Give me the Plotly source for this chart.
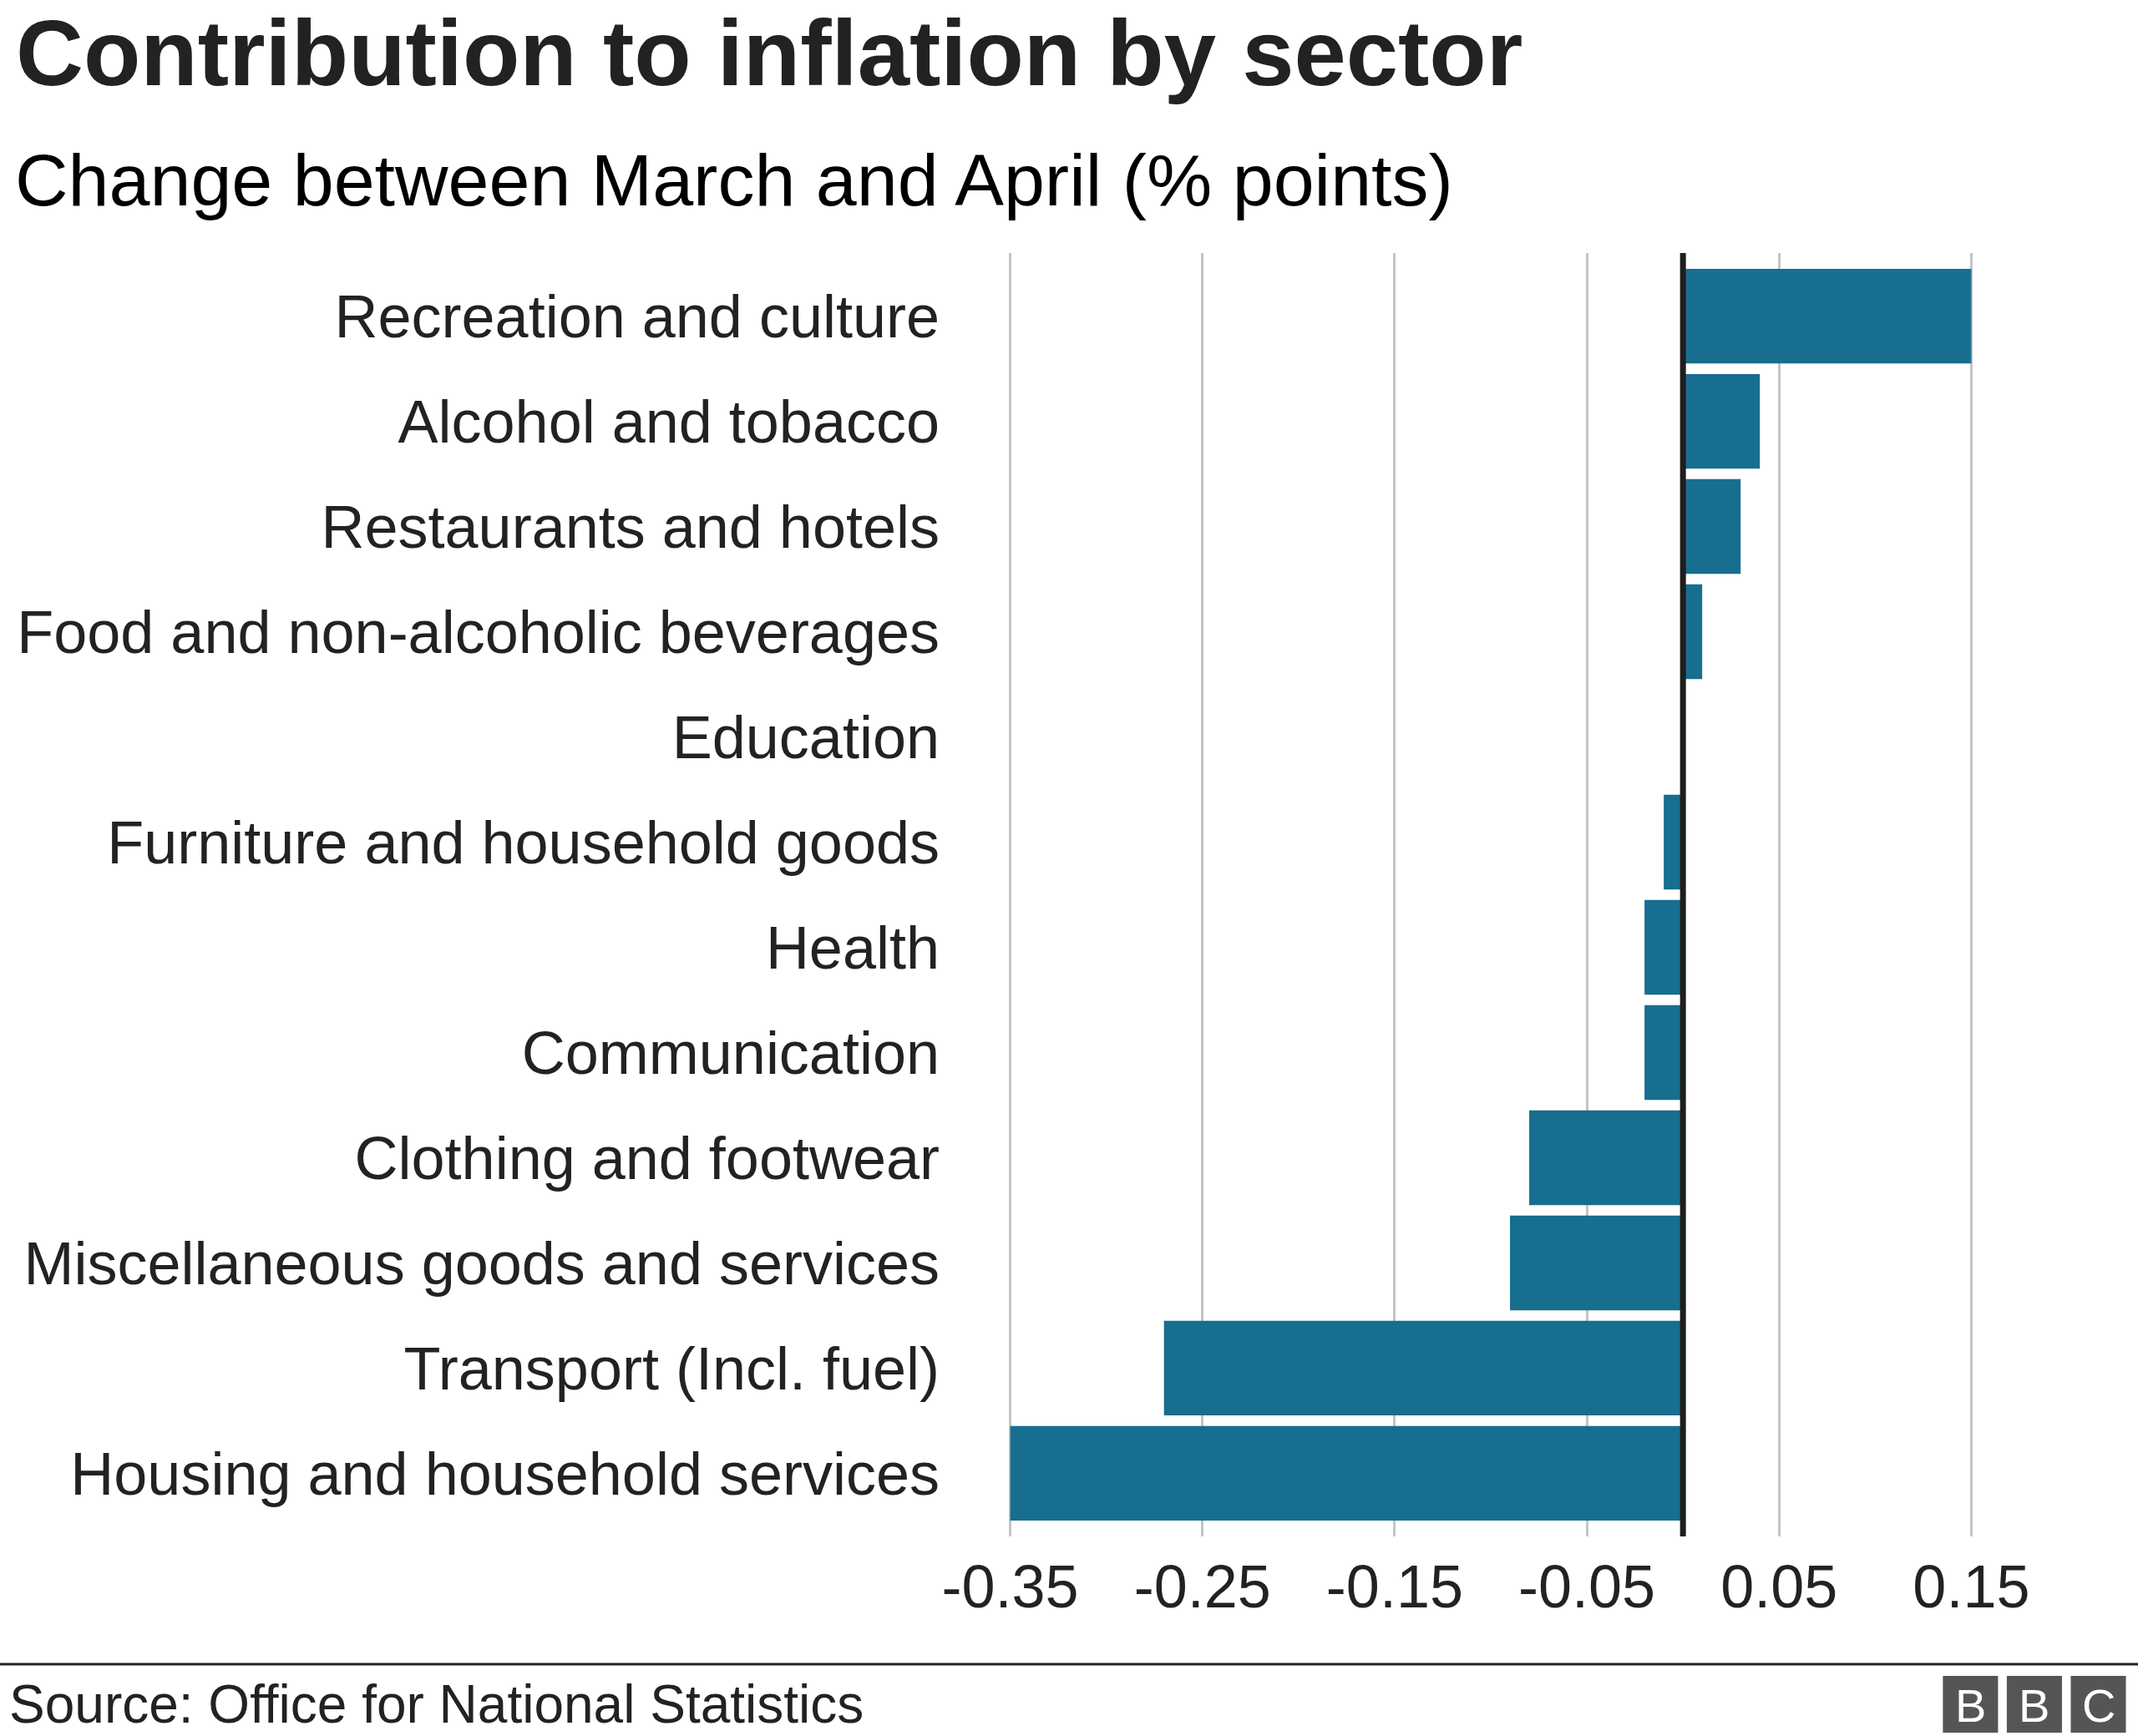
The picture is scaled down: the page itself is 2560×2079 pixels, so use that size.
import plotly.graph_objects as go

categories = [
    "Recreation and culture",
    "Alcohol and tobacco",
    "Restaurants and hotels",
    "Food and non-alcoholic beverages",
    "Education",
    "Furniture and household goods",
    "Health",
    "Communication",
    "Clothing and footwear",
    "Miscellaneous goods and services",
    "Transport (Incl. fuel)",
    "Housing and household services",
]
values = [0.15, 0.04, 0.03, 0.01, 0.0, -0.01, -0.02, -0.02, -0.08, -0.09, -0.27, -0.35]
tick_values = [-0.35, -0.25, -0.15, -0.05, 0.05, 0.15]
tick_labels = ["-0.35", "-0.25", "-0.15", "-0.05", "0.05", "0.15"]

W, H = 2560, 2079
X_MIN, X_MAX = -0.352, 0.152
SCALE = 2300.0  # pixels per unit
ZERO_PX = 2015.0
L = ZERO_PX + X_MIN * SCALE
R = ZERO_PX + X_MAX * SCALE
T, B = 303, 1840
FONT = "Liberation Sans, Arial, Helvetica, sans-serif"
TXT = "#222222"


def px(x):
    return (x - L) / (R - L)


def py(y):
    return (B - y) / (B - T)


fig = go.Figure(
    go.Bar(
        x=values,
        y=categories,
        orientation="h",
        marker=dict(color="#176E8F", line=dict(width=0)),
        hoverinfo="x+y",
    )
)

fig.update_layout(
    width=W,
    height=H,
    margin=dict(l=L, r=W - R, t=T, b=H - B, pad=0),
    paper_bgcolor="white",
    plot_bgcolor="white",
    bargap=0.1,
    showlegend=False,
    font=dict(family=FONT, color=TXT),
    xaxis=dict(
        range=[X_MIN, X_MAX],
        tickvals=tick_values,
        ticktext=tick_labels,
        showgrid=True,
        gridcolor="#c4c4c4",
        gridwidth=3,
        zeroline=False,
        showline=False,
        ticks="",
        ticklabelstandoff=12,
        tickfont=dict(size=72, color=TXT, family=FONT),
    ),
    yaxis=dict(
        type="category",
        range=[11.6, -0.6],
        showgrid=False,
        zeroline=False,
        showline=False,
        ticks="",
        ticklabelstandoff=79,
        tickfont=dict(size=72, color=TXT, family=FONT),
    ),
)

annotations = [
    dict(text="<b>Contribution to inflation by sector</b>", x=px(18), y=py(64),
         xanchor="left", yanchor="middle", font=dict(size=112, color=TXT, family=FONT)),
    dict(text="Change between March and April (% points)", x=px(17), y=py(215),
         xanchor="left", yanchor="middle", font=dict(size=88, color="#000000", family=FONT)),
    dict(text="Source: Office for National Statistics", x=px(10), y=py(2041),
         xanchor="left", yanchor="middle", font=dict(size=64, color=TXT, family=FONT)),
]

shapes = [
    # zero reference line drawn above the bars
    dict(type="line", xref="x", yref="paper", x0=0, x1=0, y0=0, y1=1, layer="above",
         line=dict(color="#1e1e1e", width=7)),
    # footer rule
    dict(type="line", xref="paper", yref="paper", x0=px(0), x1=px(W), y0=py(1993), y1=py(1993),
         line=dict(color="#222222", width=3)),
]

# BBC logo blocks
for i, letter in enumerate(["B", "B", "C"]):
    x0 = 2326 + i * 76.5
    x1 = x0 + 66
    shapes.append(dict(type="rect", xref="paper", yref="paper", x0=px(x0), x1=px(x1),
                       y0=py(2007), y1=py(2075), fillcolor="#555555", line=dict(width=0)))
    annotations.append(dict(text=letter, x=px((x0 + x1) / 2), y=py(2042), xanchor="center",
                            yanchor="middle", font=dict(size=56, color="white", family=FONT)))

for a in annotations:
    a.update(xref="paper", yref="paper", showarrow=False)

fig.update_layout(annotations=annotations, shapes=shapes)

fig.write_html(
    "out.html",
    config={"displayModeBar": False},
    post_script="document.body.style.margin='0';document.body.style.overflow='hidden';",
)
